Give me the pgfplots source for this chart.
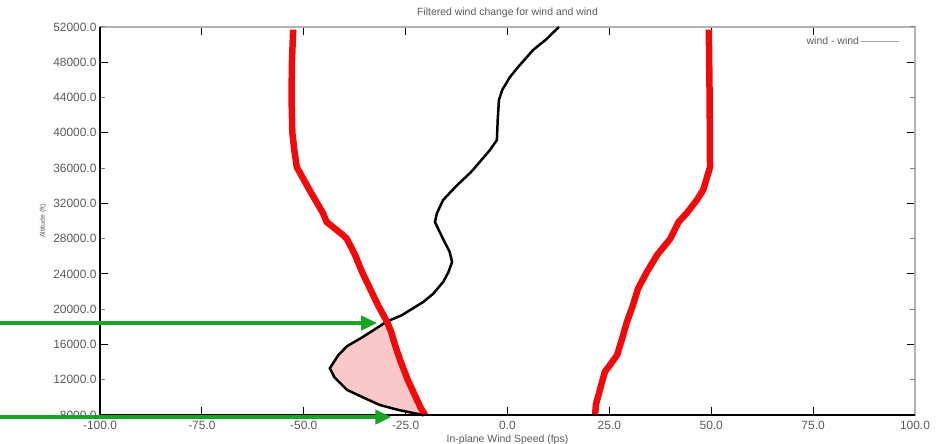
\documentclass[border=0pt]{standalone}
\usepackage{fontspec}
\setmainfont{Liberation Sans}
\usepackage{pgfplots}
\pgfplotsset{compat=1.18}
\usetikzlibrary{arrows.meta}
\definecolor{windred}{RGB}{240,10,10}
\definecolor{windgreen}{RGB}{25,165,35}
\definecolor{windpink}{RGB}{249,200,200}
\definecolor{labelgray}{RGB}{90,90,90}

\begin{document}
\begin{tikzpicture}
\begin{axis}[
    scale only axis,
    width=815bp, height=388bp,
    xmin=-100, xmax=100,
    ymin=8000, ymax=52000,
    clip=false,
    xtick={-100,-75,...,100},
    ytick={8000,16000,...,48000},
    extra y ticks={12000,20000,...,52000},
    extra y tick style={major tick length=5bp, tick style={gray}},
    scaled ticks=false,
    tick align=inside,
    major tick length=8bp,
    tick style={black, line width=1bp},
    axis line style={draw=gray!60, line width=1.5bp},
    /pgf/number format/fixed,
    /pgf/number format/fixed zerofill,
    /pgf/number format/precision=1,
    /pgf/number format/1000 sep={},
    /pgf/number format/assume math mode=true,
    tick label style={font=\fontsize{12}{14}\selectfont, text=labelgray},
    xticklabel style={yshift=-3bp},
    title={Filtered wind change for wind and wind},
    title style={font=\fontsize{10.5}{12}\selectfont, text=labelgray},
    xlabel={In-plane Wind Speed (fps)},
    xlabel style={font=\fontsize{10.5}{12}\selectfont, text=labelgray, yshift=2bp},
    ylabel={Altitude (ft)},
    ylabel style={font=\fontsize{7}{8}\selectfont, text=labelgray},
    legend plot pos=right,
    legend image code/.code={\draw[#1] (0bp,0bp) -- (38bp,0bp);},
    legend style={draw=none, fill=none, at={(rel axis cs:0.985,0.985)}, anchor=north east,
        font=\fontsize{10.5}{12}\selectfont, text=labelgray},
]
\addlegendimage{gray!70, line width=0.6bp}
\addlegendentry{wind - wind}

% shaded pocket between the black profile and the left red bound
\addplot[fill=windpink, draw=none] coordinates {
    (-29.6,18600) (-35.5,16850) (-39.4,15800) (-41.5,14800) (-43.6,13300)
    (-42.5,12300) (-39.4,10850) (-35.0,9900) (-31.3,9130) (-27.0,8600)
    (-23.2,8230) (-20.5,8000)
    (-20.2,8000) (-21.3,8800) (-22.5,10000) (-24.5,12000) (-26.4,14300)
    (-27.5,15800) (-28.6,17500) (-29.6,18600)
} -- cycle;

% black wind profile
\addplot[black, line width=2.5bp] coordinates {
    (12.6,52000) (9.5,50600) (6.3,49400) (2.6,47460) (0.6,46330) (-1.3,44860) (-2.1,43720)
    (-2.4,41500) (-2.6,39190) (-4.3,38050) (-8.5,35780) (-9.2,35440) (-12.5,34000)
    (-15.8,32380) (-17.3,30910) (-17.8,29890) (-16.8,28900) (-15.8,27960)
    (-14.2,26500) (-13.6,25350) (-14.5,24200) (-15.8,23080)
    (-18.3,21720) (-20.7,20810) (-26.0,19300) (-29.6,18600)
    (-35.5,16850) (-39.4,15800) (-41.5,14800) (-43.6,13300)
    (-42.5,12300) (-39.4,10850) (-35.0,9900) (-31.3,9130) (-27.0,8600)
    (-23.2,8230) (-20.5,8000)
};

% left red bound
\addplot[windred, line width=6.5bp] coordinates {
    (-52.6,51700) (-52.9,48000) (-53.0,44000) (-52.8,40000) (-52.3,38000)
    (-51.7,36100) (-50.9,35440) (-49.0,33860) (-47.2,32400) (-45.3,30910)
    (-44.4,29900) (-40.4,28410) (-39.4,27960) (-37.4,26140) (-35.7,24220)
    (-33.7,22300) (-31.8,20470) (-29.6,18600) (-28.6,17500)
    (-27.5,15800) (-26.4,14300) (-24.5,12000) (-22.5,10000) (-21.3,8800)
    (-20.2,8000)
};

% right red bound
\addplot[windred, line width=6.5bp] coordinates {
    (49.4,51700) (49.6,44000) (49.7,36100) (48.0,33500) (46.5,32400)
    (44.0,30900) (42.0,29900) (39.9,27960) (36.7,26140) (34.2,24220)
    (32.0,22300) (30.8,20470) (29.3,18550) (28.1,16620) (26.9,14800)
    (25.2,13700) (23.9,12900) (22.7,10900) (21.7,9200) (21.5,8000)
};

\draw[black, line width=2bp] (rel axis cs:0,1) -- (rel axis cs:0,0) -- (rel axis cs:1,0);

% green pointers
\draw[windgreen, line width=4bp, -{Triangle[length=16bp,width=14bp]}]
    (axis cs:-125,18430) -- (axis cs:-32.0,18430);
\draw[windgreen, line width=4bp, -{Triangle[length=16bp,width=14bp]}]
    (axis cs:-125,7770) -- (axis cs:-28.5,7770);
\end{axis}
\pgfresetboundingbox
\useasboundingbox (-100bp,-29bp) rectangle (839bp,415bp);
\end{tikzpicture}
\end{document}
